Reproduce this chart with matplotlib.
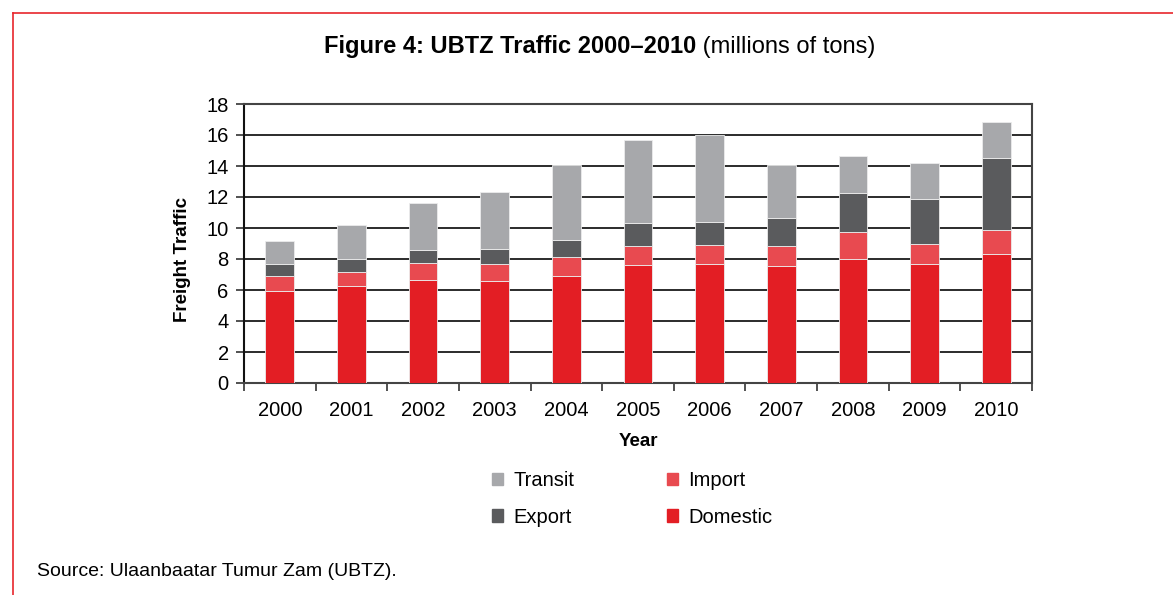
import matplotlib
matplotlib.use("Agg")
import matplotlib.pyplot as plt
import numpy as np
from matplotlib.lines import Line2D
from matplotlib.patches import Patch

plt.rcParams['font.family'] = ['Liberation Sans', 'DejaVu Sans']

years = ['2000', '2001', '2002', '2003', '2004', '2005', '2006', '2007', '2008', '2009', '2010']
# segment sizes (millions of tons)
domestic = [5.95, 6.24, 6.62, 6.56, 6.88, 7.61, 7.70, 7.53, 8.02, 7.70, 8.32]
import_ = [0.95, 0.92, 1.14, 1.14, 1.25, 1.23, 1.20, 1.31, 1.72, 1.25, 1.55]
export = [0.76, 0.86, 0.80, 0.95, 1.12, 1.46, 1.47, 1.78, 2.54, 2.94, 4.65]
transit = [1.52, 2.17, 3.07, 3.65, 4.81, 5.40, 5.63, 3.47, 2.34, 2.30, 2.32]

c_dom = '#e31e24'
c_imp = '#e84a50'
c_exp = '#5a5b5d'
c_tra = '#a7a8ab'

fig = plt.figure(figsize=(11.73, 5.95), dpi=100)
ax = fig.add_axes([244 / 1173, 1 - 383 / 595, (1032 - 244) / 1173, (383 - 104) / 595])

x = np.arange(len(years))
w = 0.40
b1 = np.array(domestic)
b2 = b1 + np.array(import_)
b3 = b2 + np.array(export)
kw = dict(width=w, edgecolor='#ececec', linewidth=0.6, zorder=3)
ax.bar(x, domestic, color=c_dom, **kw)
ax.bar(x, import_, bottom=b1, color=c_imp, **kw)
ax.bar(x, export, bottom=b2, color=c_exp, **kw)
ax.bar(x, transit, bottom=b3, color=c_tra, **kw)

ax.set_xlim(-0.5, len(years) - 0.5)
ax.set_ylim(0, 18)
ax.set_yticks(np.arange(0, 19, 2))
ax.yaxis.grid(True, color='#1a1a1a', linewidth=1.3, zorder=1)
ax.set_axisbelow(True)

# ticks on category boundaries, labels centred
ax.set_xticks(np.arange(-0.5, len(years) + 0.5, 1))
ax.set_xticklabels([])
ax.set_xticks(x, minor=True)
ax.set_xticklabels(years, minor=True, fontsize=14.5)
ax.tick_params(axis='x', which='minor', length=0, pad=13)
ax.tick_params(axis='x', which='major', length=6, width=1.2, color='#333333')
ax.tick_params(axis='y', length=6, width=1.2, color='#333333', labelsize=14.5, pad=5)

for s in ax.spines.values():
    s.set_color('#444444')
    s.set_linewidth(1.5)
ax.spines['left'].set_color('#111111')

ax.set_xlabel('Year', fontsize=13.5, fontweight='bold')
ax.xaxis.set_label_coords(0.5, (383 - 433) / 279)
ax.set_ylabel('Freight Traffic', fontsize=13.5, fontweight='bold')
ax.yaxis.set_label_coords((191 - 244) / 788, (383 - 260) / 279)

# column-wise fill: Transit / Export in first column, Import / Domestic in second
handles = [Patch(color=c_tra), Patch(color=c_exp), Patch(color=c_imp), Patch(color=c_dom)]
labels = ['Transit', 'Export', 'Import', 'Domestic']
fig.legend(handles, labels, ncol=2, loc='center', bbox_to_anchor=(632 / 1173, 1 - 499 / 595),
           frameon=False, fontsize=14.5, handlelength=0.55, handleheight=0.55,
           columnspacing=4.6, labelspacing=0.85, handletextpad=0.5)

# title: bold part + normal part
fig.canvas.draw()
r = fig.canvas.get_renderer()
t1 = fig.text(0, 1 - 47 / 595, 'Figure 4: UBTZ Traffic 2000\u20132010', fontsize=17,
              fontweight='bold', va='center', ha='left')
t2 = fig.text(0, 1 - 47 / 595, ' (millions of tons)', fontsize=17, va='center', ha='left')
w1 = t1.get_window_extent(r).width
w2 = t2.get_window_extent(r).width
start = 600 - (w1 + w2) / 2
t1.set_x(start / 1173)
t2.set_x((start + w1) / 1173)

fig.text(37 / 1173, 1 - 572 / 595, 'Source: Ulaanbaatar Tumur Zam (UBTZ).', fontsize=14, va='center')

# red frame (top and left edges visible)
fig.add_artist(Line2D([13 / 1173, 1], [1 - 13 / 595, 1 - 13 / 595], color='#e8262c', linewidth=1.2))
fig.add_artist(Line2D([13 / 1173, 13 / 1173], [1 - 13 / 595, 0], color='#e8262c', linewidth=1.2))

fig.savefig('out.png', dpi=100)
